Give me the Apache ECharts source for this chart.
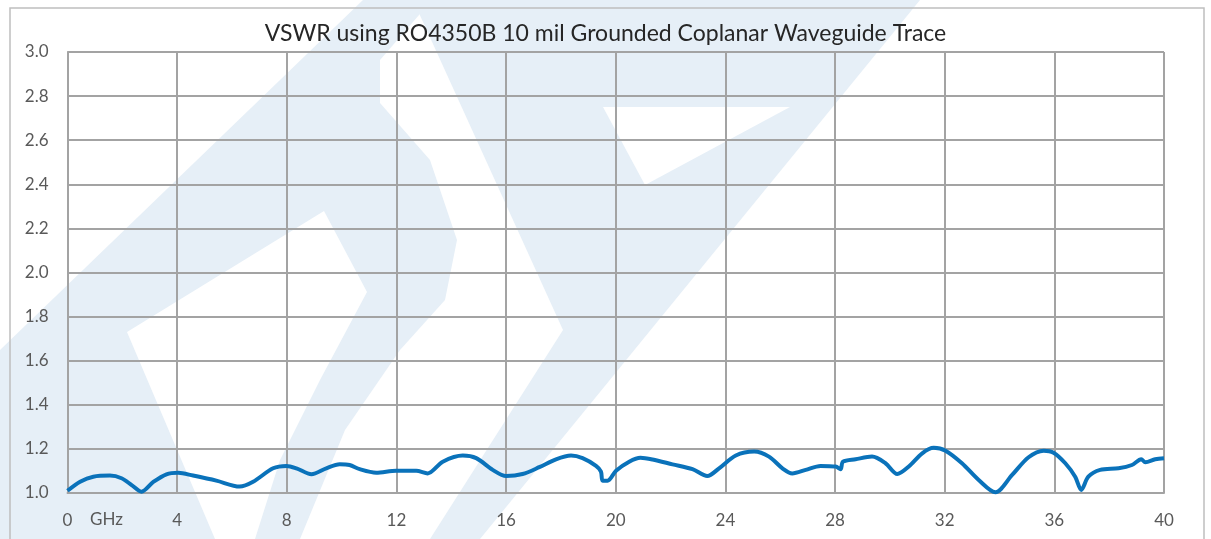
<!DOCTYPE html>
<html>
<head>
<meta charset="utf-8">
<script src="https://cdn.jsdelivr.net/npm/echarts@6/dist/echarts.min.js"></script>
<style>
html,body{margin:0;padding:0;background:#fff;}
#chart{width:1211px;height:539px;}
</style>
</head>
<body>
<div id="chart"></div>
<script>
var titleText = 'VSWR using RO4350B 10 mil Grounded Coplanar Waveguide Trace';
var xTicks = [0, 4, 8, 12, 16, 20, 24, 28, 32, 36, 40];
var yTicks = [1.0, 1.2, 1.4, 1.6, 1.8, 2.0, 2.2, 2.4, 2.6, 2.8, 3.0];
var freqGHz = [0, 0.46, 0.94, 1.55, 1.97, 2.34, 2.70, 3.13, 3.61, 4.04, 4.58, 5.43, 6.28, 6.77, 7.50, 7.99, 8.35, 8.90, 9.44, 9.93, 10.29, 10.66, 11.26, 11.99, 12.72, 13.14, 13.69, 14.42, 14.91, 15.51, 16.0, 16.6, 17.21, 17.82, 18.37, 18.79, 19.28, 19.46, 19.52, 19.70, 20.01, 20.49, 20.9, 21.34, 22.07, 22.8, 23.34, 23.77, 24.38, 25.05, 25.59, 26.08, 26.44, 26.93, 27.47, 28.02, 28.2, 28.29, 28.75, 29.35, 29.84, 30.27, 30.69, 31.18, 31.6, 32.03, 32.63, 33.24, 33.85, 34.46, 35.06, 35.61, 35.97, 36.4, 36.76, 36.98, 37.24, 37.67, 38.34, 38.83, 39.17, 39.32, 39.68, 40.0];
var vswr = [1.01, 1.051, 1.074, 1.079, 1.067, 1.036, 1.006, 1.05, 1.085, 1.092, 1.079, 1.056, 1.029, 1.051, 1.112, 1.123, 1.112, 1.085, 1.112, 1.13, 1.127, 1.108, 1.092, 1.101, 1.101, 1.089, 1.142, 1.17, 1.158, 1.105, 1.077, 1.086, 1.117, 1.153, 1.17, 1.158, 1.123, 1.097, 1.056, 1.056, 1.101, 1.142, 1.16, 1.152, 1.13, 1.108, 1.077, 1.112, 1.17, 1.188, 1.165, 1.112, 1.089, 1.105, 1.123, 1.12, 1.108, 1.142, 1.153, 1.165, 1.135, 1.086, 1.12, 1.18, 1.205, 1.192, 1.135, 1.059, 1.003, 1.082, 1.162, 1.192, 1.183, 1.135, 1.074, 1.014, 1.074, 1.105, 1.112, 1.127, 1.153, 1.139, 1.153, 1.158];

var seriesData = freqGHz.map(function (f, i) { return [f, vswr[i]]; });

var wm = '#e6eff7';
function poly(pts, fill) {
  return { type: 'polygon', silent: true, z: -10, shape: { points: pts }, style: { fill: fill } };
}

var chart = echarts.init(document.getElementById('chart'), null, { renderer: 'canvas' });
var font = 'Lato, "Open Sans", sans-serif';
chart.setOption({
  backgroundColor: '#ffffff',
  animation: false,
  title: {
    text: titleText,
    left: 'center',
    top: 17,
    textStyle: { fontFamily: font, fontSize: 23, fontWeight: 'normal', color: '#262626' }
  },
  graphic: [
    poly([[0,350],[363,0],[432,0],[380,60],[380,103],[430,160],[457,240],[445,300],[400,350],[345,430],[300,539],[0,539]], wm),
    poly([[127,332],[324,211],[367,292],[320,380],[280,460],[255,539],[215,539]], '#ffffff'),
    poly([[413,0],[920,0],[480,539],[430,539],[563,330]], wm),
    poly([[603,107],[790,107],[645,185]], '#ffffff'),
    { type: 'rect', silent: true, z: 100, shape: { x: 10, y: 8, width: 1194, height: 545 },
      style: { fill: 'none', stroke: '#bfbfbf', lineWidth: 1.5 } },
    { type: 'text', silent: true, z: 100, left: 90, top: 511,
      style: { text: 'GHz', fill: '#595959', font: '17px ' + font } }
  ],
  grid: { left: 67.5, right: 47, top: 52, bottom: 46, containLabel: false },
  xAxis: {
    type: 'value', min: 0, max: 40, interval: 4,
    axisLine: { show: true, lineStyle: { color: '#a3a3a3', width: 2 } },
    axisTick: { show: false },
    splitLine: { show: true, lineStyle: { color: '#a3a3a3', width: 2 } },
    axisLabel: { color: '#595959', fontFamily: font, fontSize: 17, margin: 19,
      formatter: function (v) { return xTicks.indexOf(v) >= 0 ? String(v) : ''; } }
  },
  yAxis: {
    type: 'value', min: 1.0, max: 3.0, interval: 0.2,
    axisLine: { show: true, lineStyle: { color: '#a3a3a3', width: 2 } },
    axisTick: { show: false },
    splitLine: { show: true, lineStyle: { color: '#a3a3a3', width: 2 } },
    axisLabel: { color: '#595959', fontFamily: font, fontSize: 17, margin: 19,
      formatter: function (v) { return v.toFixed(1); } }
  },
  series: [{
    type: 'line',
    data: seriesData,
    showSymbol: false,
    smooth: 0.3,
    lineStyle: { color: '#0a72ba', width: 4 },
    itemStyle: { color: '#0a72ba' },
    z: 5
  }]
});
</script>
</body>
</html>
